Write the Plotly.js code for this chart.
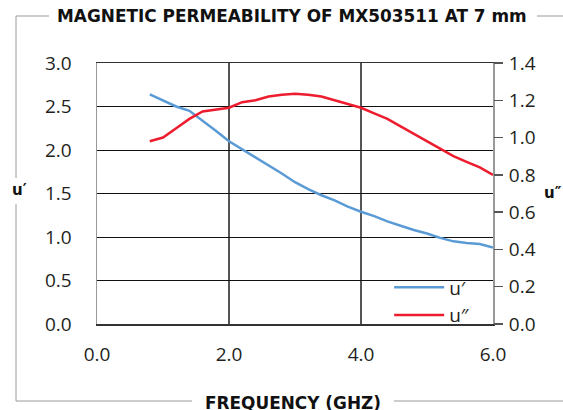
<!DOCTYPE html>
<html><head><meta charset="utf-8">
<script src="https://cdn.plot.ly/plotly-3.0.1.min.js"></script>
<style>html,body{margin:0;padding:0;background:#fff;}#chart{width:563px;height:410px;}</style>
</head><body><div id="chart"></div>
<script>
const freqGHz = [0.8,1.0,1.2,1.4,1.6,1.8,2.0,2.2,2.4,2.6,2.8,3.0,3.2,3.4,3.6,3.8,4.0,4.2,4.4,4.6,4.8,5.0,5.2,5.4,5.6,5.8,6.0];
const uPrime = [2.64,2.57,2.50,2.45,2.34,2.22,2.10,2.01,1.92,1.82,1.73,1.63,1.55,1.48,1.42,1.35,1.29,1.24,1.18,1.13,1.08,1.04,0.99,0.95,0.93,0.92,0.88];
const uDoublePrime = [0.98,1.00,1.05,1.10,1.14,1.15,1.16,1.19,1.20,1.22,1.23,1.235,1.23,1.22,1.20,1.18,1.16,1.13,1.10,1.06,1.02,0.98,0.94,0.90,0.87,0.84,0.80];
const seriesNames = ['u\u2032','u\u2033'];
const titleText = 'MAGNETIC PERMEABILITY OF MX503511 AT 7 mm';
const xTitleText = 'FREQUENCY (GHZ)';

const W = 563, H = 410, M = {l:97, r:70, t:63, b:86};
const pw = W - M.l - M.r, ph = H - M.t - M.b;
const px = v => (v - M.l) / pw;
const py = v => (H - M.b - v) / ph;
function seg(x0,y0,x1,y1){return {type:'line',xref:'paper',yref:'paper',x0:px(x0),y0:py(y0),x1:px(x1),y1:py(y1),line:{color:'#9a9a9a',width:1}};}

const tickFont = {family:'Open Sans, sans-serif', size:19, color:'#231f20'};
const boldFont = {family:'DejaVu Sans, sans-serif', size:16.9, color:'#111', weight:700};
const axisLabFont = {family:'DejaVu Sans, sans-serif', size:15, color:'#111', weight:700};

const data = [
  {x:freqGHz, y:uPrime, name:seriesNames[0], type:'scatter', mode:'lines', line:{color:'#5b9bd5', width:2.5}, yaxis:'y'},
  {x:freqGHz, y:uDoublePrime, name:seriesNames[1], type:'scatter', mode:'lines', line:{color:'#ed1c2e', width:2.5}, yaxis:'y2'}
];

const layout = {
  width:W, height:H, margin:M, paper_bgcolor:'#fff', plot_bgcolor:'#fff',
  showlegend:true,
  legend:{x:0.955, xanchor:'right', y:-0.04, yanchor:'bottom', bgcolor:'rgba(0,0,0,0)', font:{family:'Open Sans, sans-serif', size:19, color:'#231f20'}, itemwidth:50, tracegroupgap:0},
  xaxis:{range:[0,6], dtick:2, tick0:0, tickformat:'.1f', showgrid:true, gridcolor:'#555', gridwidth:1.5, zeroline:false,
         showline:true, linecolor:'#333', linewidth:1.5, mirror:true, ticks:'', tickfont:tickFont, ticklabelstandoff:13, fixedrange:true},
  yaxis:{range:[0,3], dtick:0.5, tick0:0, tickformat:'.1f', showgrid:true, gridcolor:'#111', gridwidth:1, zeroline:false,
         showline:true, linecolor:'#999', linewidth:1.5, mirror:true, ticks:'', tickfont:tickFont, ticklabelstandoff:20, fixedrange:true},
  yaxis2:{range:[0,1.4], dtick:0.2, tick0:0, tickformat:'.1f', overlaying:'y', side:'right', showgrid:false, zeroline:false,
         showline:false, ticks:'outside', ticklen:9, tickcolor:'#555', tickwidth:1.5, tickfont:tickFont, ticklabelstandoff:2, fixedrange:true},
  annotations:[
    {text:titleText, xref:'paper', yref:'paper', x:px(292), y:py(16), xanchor:'center', yanchor:'middle', showarrow:false, font:boldFont},
    {text:xTitleText, xref:'paper', yref:'paper', x:px(293), y:py(403), xanchor:'center', yanchor:'middle', showarrow:false, font:boldFont},
    {text:'u\u2032', xref:'paper', yref:'paper', x:px(19), y:py(190), xanchor:'center', yanchor:'middle', showarrow:false, font:axisLabFont},
    {text:'u\u2033', xref:'paper', yref:'paper', x:px(553), y:py(193), xanchor:'center', yanchor:'middle', showarrow:false, font:axisLabFont}
  ],
  shapes:[
    seg(16,16,49,16), seg(537,16,563,16),
    seg(16,16,16,178), seg(16,204,16,401),
    seg(16,401,192,401), seg(394,401,563,401)
  ]
};
Plotly.newPlot('chart', data, layout, {displayModeBar:false, staticPlot:true});
</script></body></html>
